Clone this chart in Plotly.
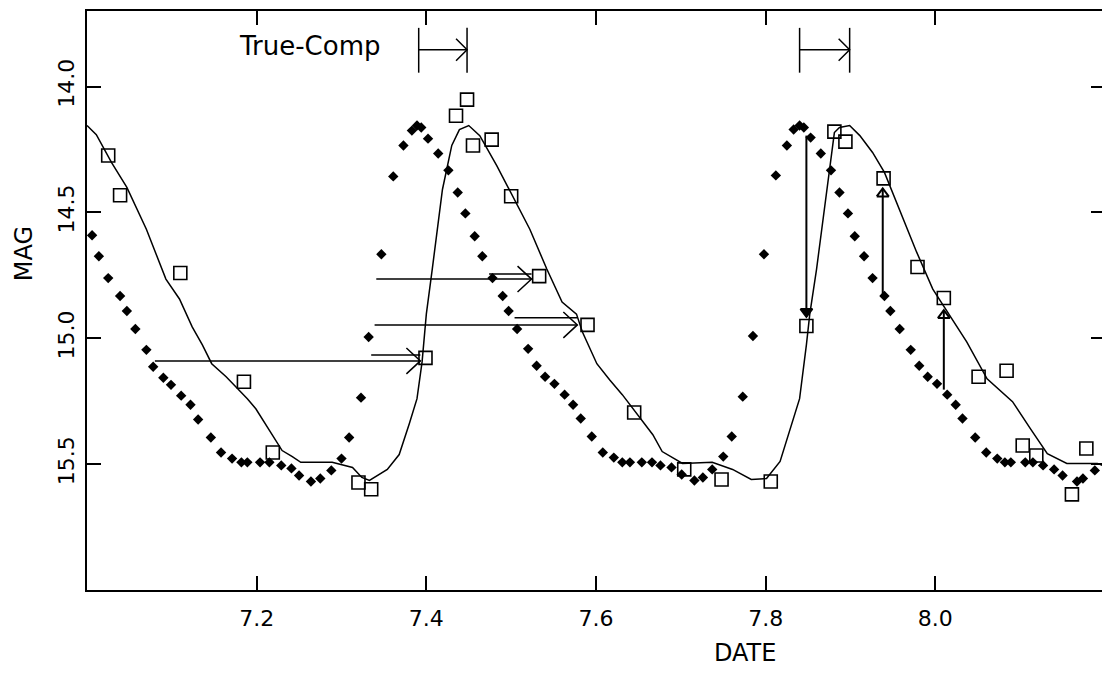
import plotly.graph_objects as go

# ---------------- data ----------------
diam_x = [7.006, 7.014, 7.025, 7.039, 7.047, 7.057, 7.070, 7.078, 7.090, 7.099,
          7.111, 7.122, 7.131, 7.146, 7.158, 7.171, 7.182, 7.189, 7.204, 7.215,
          7.229, 7.241, 7.250, 7.264, 7.275, 7.288, 7.300, 7.309, 7.323, 7.332,
          7.347, 7.361, 7.373, 7.383, 7.389, 7.394, 7.402, 7.414, 7.426, 7.437,
          7.446, 7.457, 7.466, 7.478, 7.490, 7.497, 7.507, 7.520, 7.530, 7.540,
          7.551, 7.563, 7.573, 7.582, 7.595, 7.608, 7.621, 7.631, 7.640, 7.654,
          7.666, 7.676, 7.689, 7.701, 7.716, 7.726, 7.737, 7.750, 7.760, 7.773,
          7.785, 7.798, 7.812, 7.825, 7.833, 7.840, 7.845, 7.853, 7.865, 7.877,
          7.887, 7.897, 7.905, 7.916, 7.926, 7.940, 7.947, 7.958, 7.971, 7.981,
          7.991, 8.002, 8.014, 8.024, 8.032, 8.047, 8.060, 8.073, 8.082, 8.089,
          8.106, 8.115, 8.127, 8.140, 8.150, 8.167, 8.174, 8.188]
diam_y = [14.591, 14.674, 14.761, 14.832, 14.892, 14.963, 15.046, 15.113, 15.157, 15.185,
          15.228, 15.264, 15.323, 15.394, 15.454, 15.478, 15.493, 15.493, 15.493, 15.493,
          15.505, 15.517, 15.545, 15.569, 15.557, 15.525, 15.478, 15.394, 15.236, 14.995,
          14.666, 14.357, 14.234, 14.175, 14.155, 14.163, 14.207, 14.266, 14.333, 14.421,
          14.504, 14.595, 14.674, 14.761, 14.832, 14.892, 14.963, 15.042, 15.109, 15.153,
          15.181, 15.224, 15.264, 15.319, 15.390, 15.454, 15.474, 15.493, 15.493, 15.493,
          15.493, 15.505, 15.513, 15.541, 15.565, 15.553, 15.521, 15.470, 15.390, 15.232,
          14.991, 14.666, 14.353, 14.234, 14.171, 14.155, 14.163, 14.203, 14.266, 14.333,
          14.421, 14.504, 14.595, 14.674, 14.761, 14.832, 14.892, 14.963, 15.046, 15.109,
          15.153, 15.181, 15.224, 15.264, 15.319, 15.394, 15.454, 15.478, 15.493, 15.493,
          15.493, 15.493, 15.505, 15.521, 15.545, 15.569, 15.557, 15.525]

sq_x = [7.025, 7.039, 7.110, 7.185, 7.219, 7.320, 7.335, 7.399, 7.435, 7.448,
        7.455, 7.477, 7.500, 7.533, 7.590, 7.645, 7.704, 7.748, 7.806, 7.848,
        7.881, 7.894, 7.939, 7.979, 8.010, 8.051, 8.084, 8.103, 8.119, 8.161, 8.178]
sq_y = [14.274, 14.432, 14.741, 15.173, 15.454, 15.573, 15.600, 15.078, 14.116, 14.052,
        14.234, 14.211, 14.436, 14.753, 14.947, 15.295, 15.521, 15.561, 15.569, 14.951,
        14.179, 14.219, 14.365, 14.717, 14.840, 15.153, 15.129, 15.426, 15.466, 15.620, 15.438]

line_x = [7.000, 7.011, 7.029, 7.047, 7.070, 7.093, 7.109, 7.124, 7.136, 7.147,
          7.164, 7.179, 7.189, 7.199, 7.211, 7.223, 7.230, 7.242, 7.252, 7.289,
          7.313, 7.324, 7.333, 7.354, 7.368, 7.380, 7.389, 7.395, 7.400, 7.407,
          7.419, 7.430, 7.439, 7.450, 7.463, 7.483, 7.501, 7.522, 7.542, 7.560,
          7.577, 7.584, 7.601, 7.616, 7.631, 7.651, 7.667, 7.678, 7.702, 7.737,
          7.761, 7.783, 7.801, 7.817, 7.828, 7.840, 7.848, 7.852, 7.860, 7.872,
          7.881, 7.887, 7.899, 7.911, 7.926, 7.940, 7.958, 7.978, 7.997, 8.014,
          8.037, 8.061, 8.091, 8.112, 8.132, 8.155, 8.191, 8.200]
line_y = [14.155, 14.191, 14.302, 14.401, 14.567, 14.765, 14.844, 14.955, 15.026, 15.101,
          15.153, 15.204, 15.240, 15.280, 15.343, 15.410, 15.446, 15.470, 15.493, 15.493,
          15.513, 15.553, 15.565, 15.521, 15.462, 15.339, 15.240, 15.094, 14.904, 14.725,
          14.409, 14.234, 14.171, 14.155, 14.195, 14.314, 14.432, 14.567, 14.725, 14.856,
          14.904, 14.975, 15.101, 15.165, 15.224, 15.311, 15.383, 15.450, 15.497, 15.493,
          15.521, 15.561, 15.557, 15.489, 15.367, 15.240, 15.026, 14.904, 14.725, 14.409,
          14.183, 14.163, 14.155, 14.195, 14.262, 14.341, 14.488, 14.658, 14.805, 14.896,
          15.014, 15.161, 15.252, 15.359, 15.458, 15.497, 15.497, 15.509]

# horizontal time-shift arrows (true -> comp)
harrow_start = [7.080, 7.339, 7.341]
harrow_end = [7.393, 7.578, 7.524]
harrow_y = [15.090, 14.947, 14.765]
harrow_inner_start = [7.335, 7.504, 7.474]
harrow_inner_y = [15.066, 14.919, 14.745]

# vertical magnitude arrows
varrow_x = [7.848, 7.938, 8.010]
varrow_from = [14.195, 14.832, 15.204]
varrow_to = [14.915, 14.405, 14.888]
varrow_filled = [True, False, False]

# "True-Comp" shift brackets
shift_start = [7.391, 7.840]
shift_end = [7.448, 7.899]
bracket_top = 13.767
bracket_bottom = 13.945
bracket_arrow_y = 13.854
shift_label = "True-Comp"
shift_label_x = 7.263
shift_label_y = 13.840

x_ticks = [7.2, 7.4, 7.6, 7.8, 8.0]
x_ticktext = ["7.2", "7.4", "7.6", "7.8", "8.0"]
y_ticks = [14.0, 14.5, 15.0, 15.5]
y_ticktext = ["14.0", "14.5", "15.0", "15.5"]
x_range = [7.0, 8.2]
y_range = [16.0, 13.7]

# ---------------- layout helpers ----------------
PAGE = 8                       # default page margin of the html body
W, H = 1102, 661
ML, MR, MT, MB = 79, 5, 1, 79
PW, PH = W - ML - MR, H - MT - MB
PXX = PW / (x_range[1] - x_range[0])
PXY = PH / (y_range[0] - y_range[1])
FONT = "DejaVu Sans"
LW = 1.5


def paper_x(px):
    return (px - PAGE - ML) / PW


def paper_y(py):
    return (PAGE + MT + PH - py) / PH


fig = go.Figure()

# model curve
fig.add_trace(go.Scatter(x=line_x, y=line_y, mode="lines",
                         line=dict(color="black", width=LW), hoverinfo="skip"))

# horizontal arrows
hx, hy = [], []
for xs, xe, yy, xi, yi in zip(harrow_start, harrow_end, harrow_y,
                              harrow_inner_start, harrow_inner_y):
    dx, dy = 14 / PXX, 13 / PXY
    hx += [xs, xe, None, xi, xe, None, xe - dx, xe, xe - dx, None]
    hy += [yy, yy, None, yi, yi, None, yy - dy, yy, yy + dy, None]
fig.add_trace(go.Scatter(x=hx, y=hy, mode="lines",
                         line=dict(color="black", width=LW), hoverinfo="skip"))

# vertical arrows (shafts)
vx, vy = [], []
for xx, y0, y1 in zip(varrow_x, varrow_from, varrow_to):
    vx += [xx, xx, None]
    vy += [y0, y1, None]
fig.add_trace(go.Scatter(x=vx, y=vy, mode="lines",
                         line=dict(color="black", width=2), hoverinfo="skip"))
# vertical arrow heads
for xx, y0, y1, filled in zip(varrow_x, varrow_from, varrow_to, varrow_filled):
    s = 1 if y1 > y0 else -1
    w, h = 6 / PXX, 8 / PXY
    yb = y1 - s * h
    fig.add_trace(go.Scatter(
        x=[xx - w, xx, xx + w, xx - w], y=[yb, y1, yb, yb], mode="lines",
        fill="toself" if filled else None, fillcolor="black",
        line=dict(color="black", width=2), hoverinfo="skip"))

# shift brackets
bx, by = [], []
for xs, xe in zip(shift_start, shift_end):
    dx, dy = 11 / PXX, 11 / PXY
    bx += [xs, xs, None, xe, xe, None, xs, xe, None, xe - dx, xe, xe - dx, None]
    by += [bracket_top, bracket_bottom, None, bracket_top, bracket_bottom, None,
           bracket_arrow_y, bracket_arrow_y, None,
           bracket_arrow_y - dy, bracket_arrow_y, bracket_arrow_y + dy, None]
fig.add_trace(go.Scatter(x=bx, y=by, mode="lines",
                         line=dict(color="black", width=LW), hoverinfo="skip"))

# true light curve (diamonds)
fig.add_trace(go.Scatter(x=diam_x, y=diam_y, mode="markers",
                         marker=dict(symbol="diamond", size=8, color="black",
                                     line=dict(width=0)), hoverinfo="skip"))
# comparison points (open squares)
fig.add_trace(go.Scatter(x=sq_x, y=sq_y, mode="markers",
                         marker=dict(symbol="square-open", size=13, color="black",
                                     line=dict(width=1.6, color="black")),
                         hoverinfo="skip"))

fig.add_annotation(x=shift_label_x, y=shift_label_y, xref="x", yref="y",
                   text=shift_label, showarrow=False,
                   xanchor="center", yanchor="middle",
                   font=dict(family=FONT, size=26, color="black"))
# axis titles placed inside the drawable page area
fig.add_annotation(x=paper_x(745), y=paper_y(PAGE + H - 1),
                   xref="paper", yref="paper", text="DATE", showarrow=False,
                   xanchor="center", yanchor="bottom", borderpad=0,
                   font=dict(family=FONT, size=24, color="black"))
fig.add_annotation(x=paper_x(PAGE + 1), y=paper_y(253),
                   xref="paper", yref="paper", text="MAG", showarrow=False,
                   textangle=-90, xanchor="left", yanchor="middle", borderpad=0,
                   font=dict(family=FONT, size=24, color="black"))

axis_common = dict(showline=True, linewidth=2, linecolor="black", mirror="ticks",
                   ticks="inside", ticklen=14, tickwidth=1.5, tickcolor="black",
                   showgrid=False, zeroline=False,
                   tickfont=dict(family=FONT, size=22, color="black"))
fig.update_xaxes(range=x_range, tickmode="array", tickvals=x_ticks,
                 ticktext=x_ticktext, ticklabelstandoff=8, **axis_common)
fig.update_yaxes(range=y_range, tickmode="array", tickvals=y_ticks,
                 ticktext=y_ticktext, tickangle=-90, ticklabelstandoff=2,
                 **axis_common)

fig.update_layout(width=W, height=H, showlegend=False,
                  margin=dict(l=ML, r=MR, t=MT, b=MB),
                  paper_bgcolor="white", plot_bgcolor="white")

fig.write_html("out.html")
